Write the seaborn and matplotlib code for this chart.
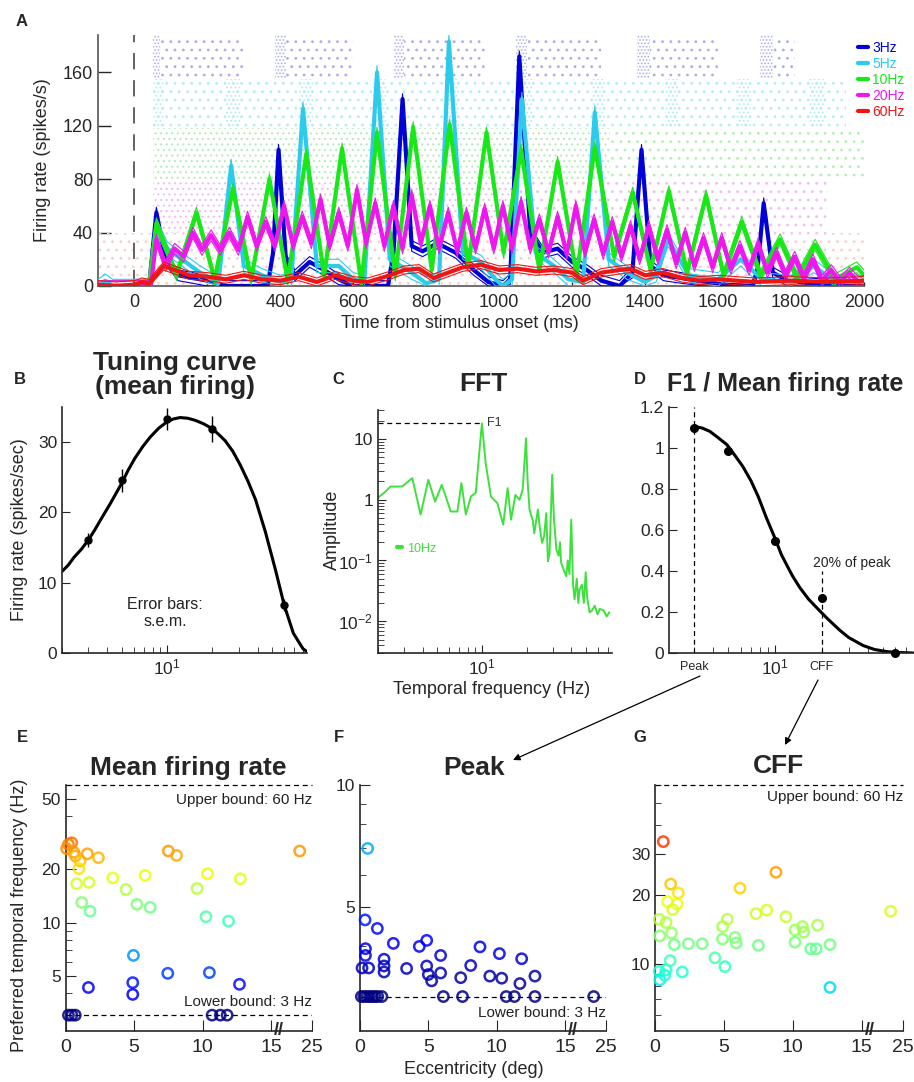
import numpy as np
import matplotlib
matplotlib.use('Agg')
import matplotlib.pyplot as plt
import seaborn as sns
from matplotlib.colors import LogNorm
from matplotlib.lines import Line2D
from matplotlib.transforms import blended_transform_factory
from matplotlib.ticker import FixedLocator, FixedFormatter, LogLocator, NullFormatter

# ---------------- data ----------------
# A: rate traces (time ms, spikes/s), thick mean + thin +/- sem lines
a_3hz = [(-100, 0), (40, 0), (60, 55), (85, 20), (120, 8), (160, 6), (200, 4), (250, 0), (365, 0),
         (380, 25), (395, 102), (415, 20), (440, 8), (480, 18), (520, 12), (560, 5), (600, 0), (695, 0),
         (710, 25), (735, 140), (760, 30), (790, 26), (830, 32), (880, 25), (930, 12), (970, 3), (1010, 0),
         (1030, 5), (1055, 172), (1085, 40), (1120, 25), (1160, 28), (1200, 18), (1240, 12), (1280, 4),
         (1330, 0), (1365, 10), (1390, 102), (1415, 15), (1450, 8), (1500, 6), (1560, 3), (1620, 1),
         (1695, 0), (1708, 12), (1725, 62), (1750, 10), (1790, 4), (1850, 2), (1950, 0), (2000, 0)]
a_5hz = [(-100, 0), (-80, 4), (-60, 0), (40, 0), (60, 45), (90, 28), (130, 20), (180, 10), (230, 2),
         (265, 90), (300, 15), (350, 8), (400, 3), (430, 5), (462, 133), (500, 15), (560, 15), (600, 5),
         (630, 3), (665, 160), (700, 20), (760, 10), (800, 2), (835, 5), (862, 183), (900, 25), (950, 18),
         (990, 5), (1010, 0), (1035, 5), (1062, 140), (1100, 25), (1150, 15), (1190, 5), (1230, 3),
         (1262, 130), (1300, 20), (1350, 10), (1400, 3), (1430, 8), (1462, 35), (1520, 8), (1600, 5),
         (1662, 20), (1720, 5), (1800, 3), (1862, 15), (1920, 3), (2000, 3)]
a_10hz = [(-100, 0), (40, 0), (60, 47), (115, 8), (170, 55), (220, 5), (270, 73), (320, 5), (370, 80),
          (420, 4), (471, 99), (520, 8), (569, 103), (622, 2), (665, 115), (715, 8), (764, 119), (815, 12),
          (864, 121), (915, 15), (965, 115), (1012, 25), (1060, 102), (1110, 12), (1160, 93), (1212, 8),
          (1262, 104), (1315, 22), (1366, 70), (1415, 12), (1465, 71), (1515, 10), (1567, 68), (1615, 8),
          (1665, 48), (1717, 8), (1770, 35), (1817, 6), (1866, 31), (1920, 5), (1980, 14), (2000, 8)]
a_20hz = [(-100, 0), (45, 0), (60, 35), (85, 15), (110, 28), (135, 22), (160, 40), (185, 27), (210, 38),
          (235, 27), (260, 40), (285, 27), (310, 52), (335, 30), (360, 48), (385, 30), (410, 60), (435, 30),
          (460, 52), (485, 32), (510, 65), (535, 30), (560, 55), (585, 30), (610, 72), (635, 32), (660, 62),
          (685, 30), (710, 60), (735, 28), (760, 68), (785, 32), (810, 60), (835, 28), (860, 55), (885, 26),
          (910, 55), (935, 28), (960, 58), (985, 28), (1010, 60), (1035, 28), (1060, 63), (1085, 28),
          (1110, 50), (1135, 25), (1160, 52), (1185, 24), (1210, 60), (1235, 25), (1260, 50), (1285, 24),
          (1310, 48), (1335, 22), (1360, 45), (1385, 20), (1410, 45), (1435, 20), (1460, 42), (1485, 17),
          (1510, 40), (1535, 15), (1560, 36), (1585, 14), (1610, 36), (1635, 13), (1660, 30), (1685, 12),
          (1710, 32), (1735, 10), (1760, 25), (1785, 8), (1810, 22), (1835, 6), (1860, 20), (1885, 4),
          (1910, 12), (1935, 3), (1960, 10), (1985, 3), (2000, 4)]
a_60hz = [(-100, 1), (-50, 0), (0, 1), (20, 3), (40, 2), (80, 15), (110, 12), (150, 8), (200, 7), (250, 5),
          (300, 8), (350, 5), (400, 4), (450, 7), (500, 3), (550, 8), (600, 4), (640, 3), (700, 8), (740, 12),
          (780, 13), (820, 6), (860, 10), (900, 14), (950, 16), (1000, 12), (1050, 13), (1100, 11),
          (1150, 12), (1200, 10), (1230, 4), (1280, 10), (1330, 12), (1360, 13), (1400, 8), (1450, 10),
          (1500, 6), (1550, 4), (1600, 5), (1700, 3), (1800, 4), (1900, 3), (2000, 4)]
a_names = ['3Hz', '5Hz', '10Hz', '20Hz', '60Hz']
a_sem = [4, 5, 4, 4, 3]

# A: spike raster regions (start ms, end ms, density level) per band (rate units)
ras_band = [(155, 188), (118, 155), (80, 118), (40, 80), (0, 40)]
ras_3hz = [(50, 70, 4), (70, 300, 1), (385, 415, 4), (415, 600, 1), (712, 740, 4), (740, 960, 1),
           (1045, 1075, 4), (1075, 1280, 1), (1378, 1412, 4), (1412, 1600, 1), (1715, 1750, 4), (1750, 1810, 1)]
ras_5hz = [(50, 1950, 1), (50, 80, 3), (250, 290, 3), (450, 490, 3), (655, 690, 3), (850, 890, 3),
           (1055, 1090, 3), (1255, 1290, 3), (1455, 1490, 3), (1650, 1690, 3), (1850, 1890, 3)]
ras_10hz = [(50, 1300, 2), (1300, 2000, 1)]
ras_20hz = [(50, 1050, 2), (1050, 1900, 1)]
ras_60hz = [(-100, 2000, 1)]

# B: tuning curve
b_freq = [3, 5, 10, 20, 60]
b_rate = [16.1, 24.6, 33.3, 31.9, 6.8]
b_sem = [0.95, 1.65, 1.6, 1.85, 0.85]
b_fit_f = [2.0, 2.2, 2.4, 2.7, 3.0, 3.3, 3.6, 4.2, 5.0, 5.5, 6.1, 6.9, 7.7, 8.8, 10, 11, 12.2, 13.7, 15.4,
           17.5, 20, 22, 24.3, 27.3, 30.7, 34.5, 38.7, 45, 52.5, 60, 69, 80, 85]
b_fit_r = [11.6, 12.5, 13.6, 14.8, 16.1, 17.5, 18.9, 21.3, 24.2, 26.0, 27.7, 29.4, 30.7, 32.0, 32.9, 33.3,
           33.5, 33.4, 33.1, 32.6, 31.9, 31.1, 30.2, 28.7, 26.7, 24.4, 21.8, 17.2, 11.8, 6.8, 2.8, 0.6, 0.2]

# C: FFT of the 10 Hz response
c_freq = [2.0, 2.2, 2.43, 2.91, 3.40, 3.87, 4.36, 4.84, 5.37, 6.17, 6.84, 7.28, 7.8, 8.43, 9.1, 9.6, 10.0,
          10.6, 11.5, 12.7, 13.9, 14.9, 15.7, 16.8, 17.9, 18.8, 19.8, 20.3, 20.9, 22.0, 22.5, 23.8, 24.5,
          25.4, 26.2, 27.1, 27.8, 28.5, 29.7, 30.5, 31.7, 32.8, 33.5, 34.1, 35.5, 36.9, 37.8, 38.8, 39.9,
          41, 42.0, 43.5, 44.5, 45.4, 47, 48.5, 49.9, 51, 53, 55, 57.4, 60, 62, 66, 69, 72]
c_amp = [1.08, 1.3, 1.65, 1.65, 2.27, 0.57, 2.13, 0.93, 1.76, 0.64, 0.64, 1.88, 0.57, 1.13, 1.3, 6, 18,
         4.0, 1.13, 0.88, 0.39, 1.55, 0.47, 1.2, 1.0, 1.45, 10.3, 2.0, 0.69, 0.45, 0.28, 0.69, 0.35,
         0.195, 0.25, 0.6, 0.097, 0.13, 2.57, 0.5, 0.15, 0.12, 0.2, 0.092, 0.07, 0.055, 0.1, 0.06, 0.47,
         0.04, 0.023, 0.05, 0.02, 0.033, 0.04, 0.02, 0.064, 0.025, 0.014, 0.015, 0.018, 0.013, 0.016,
         0.015, 0.012, 0.014]

# D: F1 / mean ratio
d_freq = [3, 5, 10, 20, 60]
d_ratio = [1.098, 0.985, 0.548, 0.269, 0.0]
d_fit_f = [3.0, 3.4, 3.8, 4.3, 4.9, 5.5, 6.2, 7.0, 7.8, 8.8, 10, 11, 11.9, 13, 14.5, 16.5, 19.5, 22, 26.3,
           30, 37.2, 44, 52.6, 60, 78]
d_fit_r = [1.106, 1.097, 1.081, 1.05, 1.016, 0.965, 0.910, 0.84, 0.763, 0.66, 0.560, 0.48, 0.43, 0.375,
           0.318, 0.262, 0.205, 0.165, 0.11, 0.075, 0.036, 0.017, 0.007, 0.003, 0.0]
d_peak, d_cff = 3, 20

# E-G: preferred temporal frequency vs eccentricity
e_ecc = [0.2, 0.44, 0.07, 0.6, 0.7, 1.05, 1.58, 2.39, 0.97, 0.8, 1.7, 1.17, 1.78, 3.44, 4.41, 5.8, 5.2, 6.17,
         7.5, 8.1, 9.6, 10.37, 10.25, 11.9, 12.76, 22, 4.95, 1.66, 4.9, 4.9, 7.46, 10.5, 12.7,
         0.2, 0.45, 0.7, 10.7, 11.3, 11.8]
e_freq = [27.7, 28.3, 26.2, 25.0, 23.8, 22.3, 24.5, 23.3, 20.2, 16.6, 16.9, 13.0, 11.6, 17.9, 15.4, 18.5, 12.7,
          12.2, 25.4, 24.0, 15.6, 18.9, 10.8, 10.2, 17.7, 25.4, 6.53, 4.3, 4.58, 3.93, 5.17, 5.22, 4.48,
          3, 3, 3, 3, 3, 3]
f_ecc = [0.56, 0.37, 1.27, 2.44, 0.4, 0.4, 0.15, 0.63, 1.76, 1.76, 1.76, 3.41, 4.34, 4.88, 4.88, 5.0, 5.24,
         5.9, 5.9, 7.37, 8.1, 8.78, 9.5, 10.2, 10.37, 11.83, 11.7, 12.8,
         0.1, 0.3, 0.5, 0.7, 0.9, 1.1, 1.3, 1.6, 6.1, 7.5, 10.7, 11.3, 12.8, 22]
f_freq = [6.97, 4.64, 4.42, 4.06, 3.94, 3.79, 3.53, 3.53, 3.71, 3.57, 3.45, 3.52, 3.99, 4.13, 3.57, 3.40, 3.28,
          3.79, 3.43, 3.34, 3.58, 3.98, 3.37, 3.83, 3.33, 3.72, 3.23, 3.37,
          3, 3, 3, 3, 3, 3, 3, 3, 3, 3, 3, 3, 3, 3]
g_ecc = [0.6, 8.78, 1.14, 1.69, 0.92, 1.28, 1.6, 0.3, 0.8, 0.35, 1.2, 1.4, 2.42, 3.43, 0.3, 0.35, 0.8, 1.1,
         1.98, 4.35, 5.08, 4.91, 5.25, 4.9, 5.8, 5.9, 6.17, 7.33, 8.1, 7.5, 9.5, 10.16, 10.7, 10.8, 10.16,
         11.3, 11.7, 11.8, 12.7, 12.7, 22, 0.7]
g_freq = [34, 25, 22.2, 20.3, 18.6, 17.2, 18.2, 15.6, 15.1, 13.2, 13.6, 12.1, 12.2, 12.2, 9.25, 8.5, 9.4, 10.3,
          9.2, 10.6, 9.7, 14.5, 15.6, 12.8, 13.0, 12.3, 21.3, 16.5, 17.1, 12.0, 16.0, 14.0, 14.5, 13.7, 12.4,
          11.6, 11.6, 14.7, 12.1, 7.87, 16.9, 8.9]
upper_bound, lower_bound = 60, 3

# ---------------- style ----------------
sns.set_style('ticks')
plt.rcParams['font.family'] = ['Liberation Sans', 'DejaVu Sans']
plt.rcParams['mathtext.fontset'] = 'custom'
plt.rcParams['mathtext.rm'] = 'Liberation Sans'
plt.rcParams['mathtext.it'] = 'Liberation Sans'
plt.rcParams['mathtext.default'] = 'regular'
plt.rcParams['xtick.direction'] = 'in'
plt.rcParams['ytick.direction'] = 'in'
plt.rcParams['hatch.linewidth'] = 0.8
plt.rcParams['axes.linewidth'] = 1.2
plt.rcParams['lines.solid_joinstyle'] = 'round'

W, H = 914, 1082
fig = plt.figure(figsize=(W / 100, H / 100), dpi=100)


def box(l, t, r, b):
    return [l / W, 1 - b / H, (r - l) / W, (b - t) / H]


def ftext(x, y, s, **kw):
    fig.text(x / W, 1 - y / H, s, **kw)


def line(ax, x, y, **kw):
    sns.lineplot(x=x, y=y, ax=ax, sort=False, estimator=None, errorbar=None, legend=False, **kw)


def plain(ax):
    ax.spines['top'].set_visible(False)
    ax.spines['right'].set_visible(False)


# ---------------- A ----------------
axA = fig.add_axes(box(98, 35, 864, 286))
plain(axA)
ras_cols = ['#acacec', '#b2ecf4', '#b6eeb6', '#f2bcf2', '#f8cfcf']
hatch_for = {1: '..', 2: '...', 3: '....', 4: '.....'}
for (lo, hi), col, blocks in zip(ras_band, ras_cols, [ras_3hz, ras_5hz, ras_10hz, ras_20hz, ras_60hz]):
    for t0, t1, dens in blocks:
        axA.fill_between([t0, t1], lo, hi, facecolor='none', edgecolor=col, hatch=hatch_for[dens],
                         linewidth=0, zorder=1)

a_cols = ['#0000d8', '#2ccbec', '#18e818', '#ee18ee', '#ee1515']
handles = []
for name, pts, col, sem in zip(a_names, [a_3hz, a_5hz, a_10hz, a_20hz, a_60hz], a_cols, a_sem):
    t = np.array([p[0] for p in pts], float)
    r = np.array([p[1] for p in pts], float)
    line(axA, t, r + sem, color=col, lw=0.8, zorder=3)
    line(axA, t, np.clip(r - sem, 0, None), color=col, lw=0.8, zorder=3)
    line(axA, t, r, color=col, lw=3, zorder=3)
    handles.append(Line2D([], [], color=col, lw=3, label=name))

axA.axvline(0, color='#555555', lw=1.3, ls=(0, (9, 6)), zorder=2)
axA.set_xlim(-100, 2000)
axA.set_ylim(0, 188)
axA.set_xticks(range(0, 2001, 200))
axA.set_yticks([0, 40, 80, 120, 160])
axA.tick_params(axis='both', labelsize=13, width=1)
axA.tick_params(axis='y', length=9)
axA.tick_params(axis='x', length=3, pad=6)
for s in ['left', 'bottom']:
    axA.spines[s].set_color('#555555')
leg = axA.legend(handles=handles, loc='upper left', bbox_to_anchor=(0.985, 1.0), frameon=False,
                 fontsize=10, handlelength=0.7, handletextpad=0.3, labelspacing=0.15, borderaxespad=0,
                 labelcolor='linecolor')
ftext(43, 160, 'Firing rate (spikes/s)', rotation=90, ha='center', va='center', fontsize=13)
ftext(460, 323, 'Time from stimulus onset (ms)', ha='center', va='center', fontsize=12.8)

# ---------------- B ----------------
axB = fig.add_axes(box(62, 407, 307, 653))
plain(axB)
axB.set_xscale('log')
line(axB, b_fit_f, b_fit_r, color='k', lw=2.2)
axB.errorbar(b_freq, b_rate, yerr=b_sem, fmt='o', color='k', ms=5, elinewidth=1, capsize=0)
axB.set_xlim(2, 85)
axB.set_ylim(0, 35)
axB.set_yticks([0, 10, 20, 30])
axB.tick_params(which='major', length=6, labelsize=12.5)
axB.tick_params(which='minor', length=4)
ftext(20, 530, 'Firing rate (spikes/sec)', rotation=90, ha='center', va='center', fontsize=13)
ftext(165, 613, 'Error bars:\ns.e.m.', ha='center', va='center', fontsize=11.5, color='#222222')

# ---------------- C ----------------
axC = fig.add_axes(box(378, 410, 612, 653))
plain(axC)
axC.set_xscale('log')
axC.set_yscale('log')
line(axC, c_freq, c_amp, color='#3ee03e', lw=1.4)
f1_amp = max(c_amp)
f1_freq = c_freq[c_amp.index(f1_amp)]
axC.hlines(f1_amp, 2, f1_freq, color='k', lw=0.9, ls=(0, (4, 3)))
axC.text(f1_freq * 1.08, f1_amp, 'F1', fontsize=9, va='center', ha='left', color='#333333')
axC.set_xlim(2, 75)
axC.set_ylim(0.003, 30)
axC.yaxis.set_major_locator(FixedLocator([0.01, 0.1, 1, 10]))
axC.yaxis.set_major_formatter(FixedFormatter(['$10^{-2}$', '$10^{-1}$', '1', '10']))
axC.yaxis.set_minor_locator(LogLocator(base=10, subs=np.arange(2, 10), numticks=20))
axC.yaxis.set_minor_formatter(NullFormatter())
axC.tick_params(which='major', length=6, labelsize=12.5)
axC.tick_params(which='minor', length=4)
axC.legend(handles=[Line2D([], [], color='#3ee03e', lw=3, label='10Hz')], loc='center left',
           bbox_to_anchor=(0.06, 0.43), frameon=False, fontsize=9, handlelength=0.4, handletextpad=0.4,
           labelcolor='linecolor', borderaxespad=0)
ftext(332, 530, 'Amplitude', rotation=90, ha='center', va='center', fontsize=13)
ftext(492, 690, 'Temporal frequency (Hz)', ha='center', va='center', fontsize=13)

# ---------------- D ----------------
axD = fig.add_axes(box(669, 407, 914, 653))
plain(axD)
axD.set_xscale('log')
line(axD, d_fit_f, d_fit_r, color='k', lw=2.2)
axD.plot(d_freq, d_ratio, 'o', color='k', ms=5.5, clip_on=False, zorder=4)
axD.vlines(d_peak, 0, 1.2, color='k', lw=0.9, ls=(0, (4, 3)))
axD.vlines(d_cff, 0, 0.4, color='k', lw=0.9, ls=(0, (4, 3)))
axD.text(d_cff * 0.88, 0.44, '20% of peak', fontsize=10, va='center', ha='left', color='#222222')
axD.set_xlim(2.07, 79)
axD.set_ylim(0, 1.2)
axD.set_yticks([0, 0.2, 0.4, 0.6, 0.8, 1.0, 1.2])
axD.set_yticklabels(['0', '0.2', '0.4', '0.6', '0.8', '1', '1.2'])
axD.tick_params(which='major', length=6, labelsize=12.5)
axD.tick_params(which='minor', length=4)
tD = blended_transform_factory(axD.transData, axD.transAxes)
axD.text(d_peak, -0.055, 'Peak', transform=tD, ha='center', va='center', fontsize=9)
axD.text(d_cff, -0.055, 'CFF', transform=tD, ha='center', va='center', fontsize=9)

# ---------------- titles / letters ----------------
ftext(175, 375, 'Tuning curve\n(mean firing)', ha='center', va='center', fontsize=19, fontweight='bold',
      linespacing=1.0)
ftext(483, 384, 'FFT', ha='center', va='center', fontsize=19, fontweight='bold')
ftext(667, 384, 'F1 / Mean firing rate', ha='left', va='center', fontsize=18, fontweight='bold')
ftext(188, 768, 'Mean firing rate', ha='center', va='center', fontsize=19, fontweight='bold')
ftext(474, 768, 'Peak', ha='center', va='center', fontsize=19, fontweight='bold')
ftext(778, 766, 'CFF', ha='center', va='center', fontsize=19, fontweight='bold')
for lt, x, y in [('A', 22, 21), ('B', 20, 380), ('C', 338, 380), ('D', 640, 380),
                 ('E', 22, 737), ('F', 339, 737), ('G', 640, 738)]:
    ftext(x, y, lt, ha='center', va='center', fontsize=12, fontweight='bold')

# arrows from D to F / G
arrow = dict(arrowstyle='-|>', color='k', lw=0.9, shrinkA=0, shrinkB=0, mutation_scale=10)
axD.annotate('', xy=(513, H - 760), xycoords='figure pixels', xytext=(700, H - 676),
             textcoords='figure pixels', arrowprops=arrow, annotation_clip=False)
axD.annotate('', xy=(785, H - 745), xycoords='figure pixels', xytext=(818, H - 680),
             textcoords='figure pixels', arrowprops=arrow, annotation_clip=False)


# ---------------- E, F, G ----------------
def ecc_fwd(x):
    x = np.asarray(x, float)
    return np.where(x <= 15, x, 15 + (x - 15) * 0.3)


def ecc_inv(x):
    x = np.asarray(x, float)
    return np.where(x <= 15, x, 15 + (x - 15) / 0.3)


jet = matplotlib.colormaps['jet']


def ecc_panel(rect, ecc, freq, ylim, major, upper, lower, up_y, lo_y):
    ax = fig.add_axes(box(*rect))
    plain(ax)
    ax.set_xscale('function', functions=(ecc_fwd, ecc_inv))
    ax.set_yscale('log')
    sns.scatterplot(x=ecc, y=freq, hue=freq, hue_norm=LogNorm(3, 52), palette=jet, s=55, linewidth=1.8,
                    legend=False, ax=ax, alpha=0.85, clip_on=False, zorder=3)
    pc = ax.collections[-1]
    pc.set_edgecolors(pc.get_facecolors())
    pc.set_facecolors('none')
    ax.set_xlim(0, 25)
    ax.set_ylim(*ylim)
    ax.xaxis.set_major_locator(FixedLocator([0, 5, 10, 15, 25]))
    ax.xaxis.set_major_formatter(FixedFormatter(['0', '5', '10', '15', '25']))
    ax.yaxis.set_major_locator(FixedLocator(major))
    ax.yaxis.set_major_formatter(FixedFormatter([str(m) for m in major]))
    ax.yaxis.set_minor_locator(LogLocator(base=10, subs=np.arange(2, 10), numticks=20))
    ax.yaxis.set_minor_formatter(NullFormatter())
    ax.tick_params(axis='x', length=8, labelsize=14, pad=6)
    ax.tick_params(axis='y', which='major', length=7, labelsize=12.5)
    ax.tick_params(axis='y', which='minor', length=4)
    dash = (0, (4, 3))
    if upper:
        ax.axhline(upper_bound, color='k', lw=0.9, ls=dash, clip_on=False)
        ax.text(1.0, up_y, 'Upper bound: 60 Hz', transform=ax.transAxes, ha='right', va='center',
                fontsize=11, color='#222222')
    if lower:
        ax.axhline(lower_bound, color='k', lw=0.9, ls=dash, zorder=1)
        ax.text(1.0, lo_y, 'Lower bound: 3 Hz', transform=ax.transAxes, ha='right', va='center',
                fontsize=11, color='#222222')
    ax.text(17, 0, '//', transform=blended_transform_factory(ax.transData, ax.transAxes),
            ha='center', va='center', fontsize=13, fontweight='bold')
    return ax


axE = ecc_panel((65.7, 785, 312, 1030.7), e_ecc, e_freq, (2.45, 60), [5, 10, 20, 50], True, True, 0.939, 0.117)
axF = ecc_panel((360, 785, 606, 1030.7), f_ecc, f_freq, (2.47, 10), [5, 10], False, True, 0, 0.072)
axG = ecc_panel((655, 785, 903, 1030.7), g_ecc, g_freq, (5.1, 60), [10, 20, 30], True, False, 0.951, 0)
ftext(20, 915, 'Preferred temporal frequency (Hz)', rotation=90, ha='center', va='center', fontsize=13)
ftext(474, 1070, 'Eccentricity (deg)', ha='center', va='center', fontsize=13)

fig.savefig('out.png', dpi=100)
